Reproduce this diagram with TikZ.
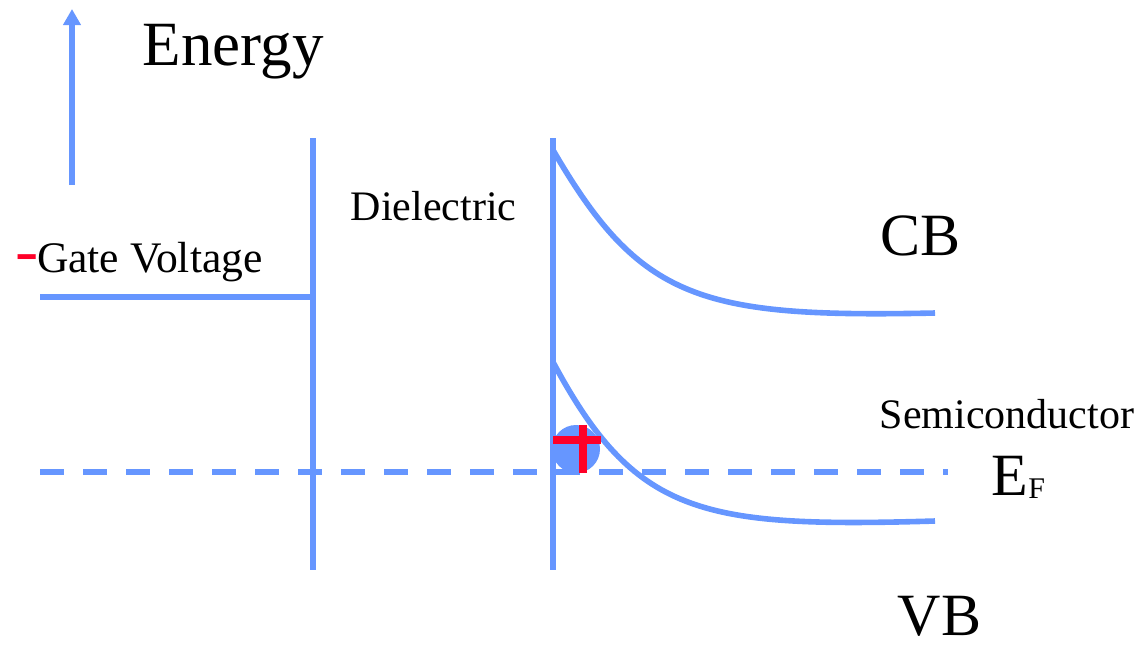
\documentclass[tikz,border=0pt]{standalone}
\usetikzlibrary{arrows.meta}
\usepackage{fontspec}
\setmainfont{Liberation Serif}
\definecolor{bandblue}{RGB}{102,150,255}
\definecolor{holered}{RGB}{255,0,40}

\begin{document}
\begin{tikzpicture}[x=0.5pt,y=-0.5pt,line width=2.8pt,
  band/.style={draw=bandblue},
  lbl/.style={anchor=base west,inner sep=0pt,font=\fontsize{21}{21}\selectfont},
  big/.style={anchor=base west,inner sep=0pt,font=\fontsize{30}{30}\selectfont}]
\useasboundingbox (0,0) rectangle (1139,645);
% ---- energy axis ----
\coordinate (ea) at (72,185);
\coordinate (eb) at (72,9);
\draw[band,-{Triangle[width=8.5pt,length=8pt]}] (ea) -- (eb);
\node[big,font=\fontsize{31.5}{31.5}\selectfont] (energy) at (140,65) {Energy};
% ---- gate / dielectric / semiconductor walls ----
\coordinate (gt) at (313,138);
\coordinate (gb) at (313,570);
\coordinate (st) at (553,138);
\coordinate (sb) at (553,570);
\coordinate (gl) at (40,297);
\coordinate (gr) at (313,297);
\draw[band] (gt) -- (gb);
\draw[band] (st) -- (sb);
\draw[band] (gl) -- (gr);
\node[lbl,font=\fontsize{21.8}{21.8}\selectfont] (gate) at (13,272)
  {\textcolor{holered}{\scalebox{1.6}[1.5]{-}}\hspace{-1pt}Gate Voltage};
\node[lbl] (diel) at (348,220) {Dielectric};
% ---- bent bands ----
\coordinate (cb0) at (553,150);
\coordinate (cb1) at (935,313);
\coordinate (vb0) at (553,362);
\coordinate (vb1) at (935,521);
\draw[band] (cb0) .. controls (640,300) and (700,318) .. (cb1);
\draw[band] (vb0) .. controls (635,515) and (700,528) .. (vb1);
\node[big] (cb) at (878,255) {CB};
\node[big] (vb) at (895,635) {VB};
\node[lbl] (semi) at (877,428) {Semiconductor};
% ---- Fermi level ----
\coordinate (fl) at (40,472);
\coordinate (fr) at (948,472);
\draw[band,dash pattern=on 12pt off 9.5pt] (fl) -- (fr);
\node[big] (ef) at (989,495) {E\raisebox{-1.5pt}{\fontsize{15}{15}\selectfont F}};
% ---- hole ----
\fill[bandblue] (576,449) circle (12pt);
\coordinate (ha) at (553,440);
\coordinate (hb) at (601,440);
\coordinate (hc) at (583,425);
\coordinate (hd) at (583,473);
\draw[holered,line width=4pt] (ha) -- (hb);
\draw[holered,line width=4pt] (hc) -- (hd);
\end{tikzpicture}
\end{document}
